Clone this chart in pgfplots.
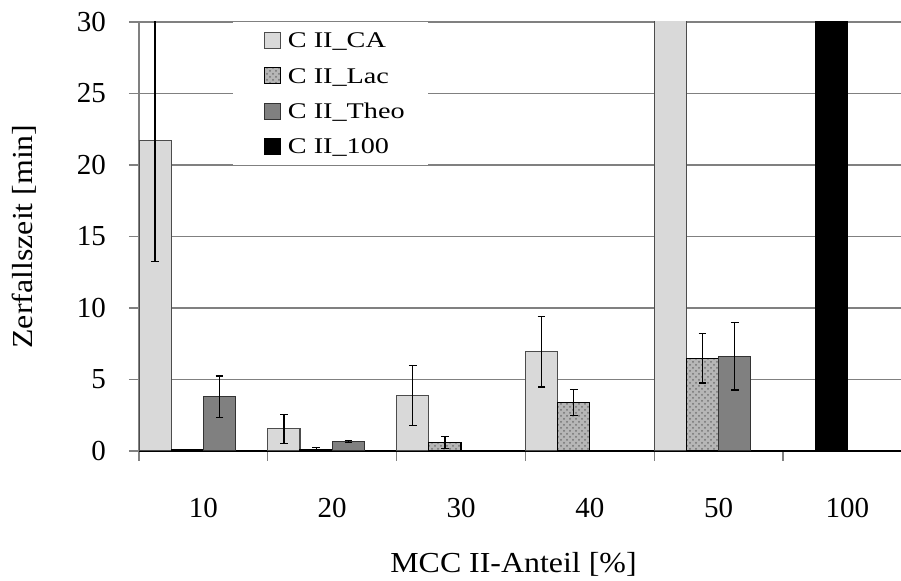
\documentclass[border=0pt]{standalone}
\usepackage{fontspec}
\setmainfont{Liberation Serif}
\usepackage{graphicx}
\usepackage{pgfplots}
\usepackage{pgfplotstable}
\pgfplotsset{compat=1.18}
\usetikzlibrary{patterns}

\definecolor{caFill}{RGB}{217,217,217}
\definecolor{lacFill}{RGB}{182,182,182}
\definecolor{theoFill}{RGB}{128,128,128}
\definecolor{gridGray}{RGB}{128,128,128}

% bar positions: group i (0..5) holds four slots at i-0.375, i-0.125, i+0.125, i+0.375
\pgfplotstableread{
x      y     err
-0.375 21.70 8.46
0.625  1.55  1.02
1.625  3.88  2.10
2.625  6.94  2.47
3.625  45.0  5.00
}\caData
\pgfplotstableread{
x      y     err
-0.125 0.08  0.00
0.875  0.12  0.10
1.875  0.60  0.42
2.875  3.40  0.92
3.875  6.48  1.72
}\lacData
\pgfplotstableread{
x      y     err
0.125  3.80  1.45
1.125  0.66  0.08
4.125  6.62  2.35
}\theoData
\pgfplotstableread{
x      y
4.875  60.0
}\fullData

\newcommand{\legtext}[1]{\scalebox{1.26}[1]{#1}}
\newcommand{\labtext}[1]{\scalebox{1.1}[1]{#1}}

\begin{document}
\begin{tikzpicture}
\begin{axis}[
  scale only axis,
  width=381pt, height=214.5pt,
  xmin=-0.5, xmax=5.416,
  ymin=0, ymax=30,
  axis x line*=bottom,
  axis y line*=left,
  x axis line style={black, line width=0.7pt},
  y axis line style={gridGray, line width=0.6pt},
  tick align=outside,
  major tick length=5pt,
  tick style={gridGray, line width=0.6pt},
  ytick={0,5,...,30},
  ymajorgrids,
  grid style={gridGray, line width=0.6pt},
  xtick={-0.5,0.5,1.5,2.5,3.5,4.5},
  xticklabels={},
  extra x ticks={0,1,2,3,4,5},
  extra x tick labels={10,20,30,40,50,100},
  extra x tick style={major tick length=0pt, grid=none},
  /pgf/number format/assume math mode=true,
  ticklabel style={font=\fontsize{14.5}{17}\selectfont},
  xticklabel style={anchor=north, yshift=-20pt},
  yticklabel style={anchor=east, xshift=-8pt},
  xlabel={\labtext{MCC II-Anteil [\%]}},
  ylabel={\labtext{Zerfallszeit [min]}},
  every axis x label/.style={at={(axis description cs:0.4915,-0.2844)}, anchor=base,
    font=\fontsize{14.5}{17}\selectfont},
  every axis y label/.style={at={(axis description cs:-0.151,0.5)}, rotate=90, anchor=center,
    font=\fontsize{14.5}{17}\selectfont},
  every axis plot/.append style={
    ybar, bar width=0.25, bar shift=0pt, line width=0.6pt,
    legend image code/.code={
      \pgfpathrectangle{\pgfpoint{0pt}{-4pt}}{\pgfpoint{12pt}{8pt}}\pgfusepath{}
      \draw[##1, line width=0.5pt] (4pt,-4pt) rectangle (12pt,4pt);
    },
  },
  error bars/error bar style={black, line width=0.6pt},
  error bars/error mark options={rotate=90, mark size=1.9pt, black, line width=0.6pt},
  legend style={
    at={(axis description cs:0.1234,1)}, anchor=north west,
    draw=none, fill=white,
    inner xsep=11.5pt, inner ysep=0.3pt,
    column sep=3.5pt,
    font=\fontsize{11.2}{13}\selectfont,
    nodes={inner ysep=0pt, inner xsep=0pt, text height=12.4pt, text depth=5.25pt},
  },
  legend cell align=left,
]
\addplot[fill=caFill, draw=black!70,
  error bars/.cd, y dir=both, y explicit]
  table[x=x, y=y, y error=err] {\caData};
\addlegendentry{\legtext{C II\_CA}}
\addplot[fill=lacFill, draw=black,
  postaction={pattern=crosshatch dots, pattern color=black!55},
  error bars/.cd, y dir=both, y explicit]
  table[x=x, y=y, y error=err] {\lacData};
\addlegendentry{\legtext{C II\_Lac}}
\addplot[fill=theoFill, draw=black!80,
  error bars/.cd, y dir=both, y explicit]
  table[x=x, y=y, y error=err] {\theoData};
\addlegendentry{\legtext{C II\_Theo}}
\addplot[fill=black, draw=black]
  table[x=x, y=y] {\fullData};
\addlegendentry{\legtext{C II\_100}}
\end{axis}
\pgfresetboundingbox
\path (-69.5pt,-65pt) rectangle (381pt,225.5pt);
\end{tikzpicture}
\end{document}
